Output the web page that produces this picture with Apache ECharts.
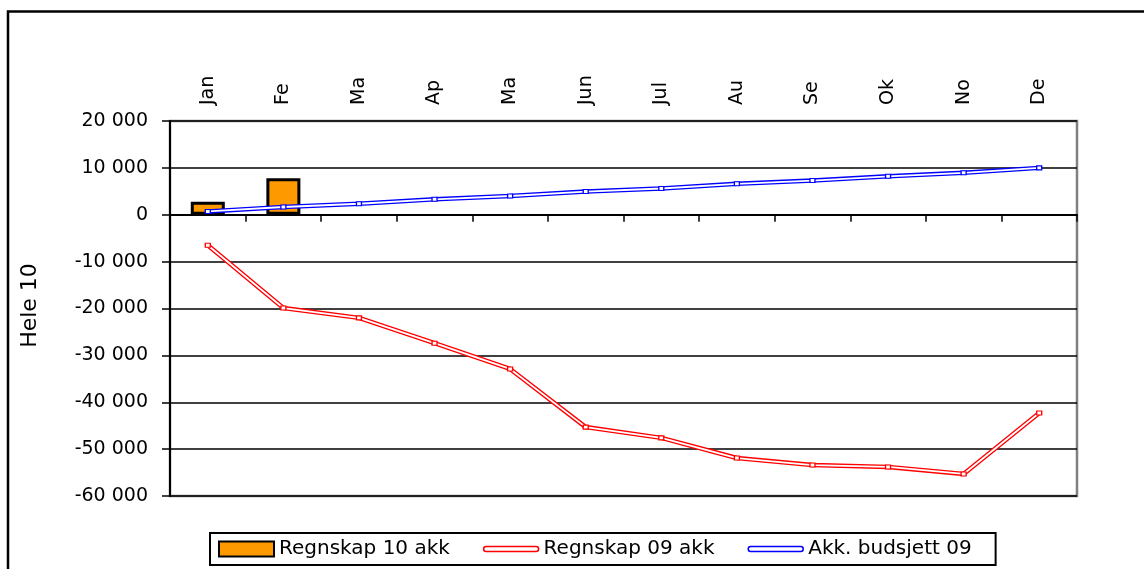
<!DOCTYPE html>
<html>
<head>
<meta charset="utf-8">
<script src="https://cdn.jsdelivr.net/npm/echarts@6/dist/echarts.min.js"></script>
<style>
html,body{margin:0;padding:0;background:#fff;}
#c{width:1144px;height:569px;}
</style>
</head>
<body>
<div id="c"></div>
<script>
// ---- data ----
const categories = ['Jan', 'Feb', 'Mar', 'Apr', 'Mai', 'Jun', 'Jul', 'Aug', 'Sep', 'Okt', 'Nov', 'Des'];
const regnskap10 = [2800, 7800, null, null, null, null, null, null, null, null, null, null];
const regnskap09 = [-6500, -19900, -22000, -27400, -32900, -45300, -47600, -51900, -53400, -53800, -55300, -42300];
const budsjett09 = [700, 1650, 2350, 3300, 4000, 4950, 5600, 6600, 7300, 8200, 8950, 10000];
const seriesNames = ['Regnskap 10 akk', 'Regnskap 09 akk', 'Akk. budsjett 09'];
const yAxisName = 'Hele 10';
const yMin = -60000, yMax = 20000, yStep = 10000;

const FONT = 'DejaVu Sans';
function fmt(v) {
  const s = String(Math.abs(v)).replace(/\B(?=(\d{3})+(?!\d))/g, ' ');
  return (v < 0 ? '-' : '') + s;
}
const lineIcon = 'path://M5,0 H105 A5,5 0 0 1 105,10 H5 A5,5 0 0 1 5,0 Z';

const chart = echarts.init(document.getElementById('c'), null, {renderer: 'canvas'});
chart.setOption({
  animation: false,
  backgroundColor: '#fff',
  graphic: [{
    type: 'rect', silent: true, z: -10,
    shape: {x: 8, y: 11.5, width: 1400, height: 900},
    style: {fill: 'none', stroke: '#000', lineWidth: 2.5}
  }],
  grid: {
    left: 170, right: 67, top: 121, bottom: 73,
    show: true, borderColor: '#808080', borderWidth: 2.5, backgroundColor: 'transparent'
  },
  legend: {
    left: 210, top: 533,
    itemWidth: 55, itemHeight: 15, itemGap: 33,
    padding: [6, 24, 6, 8],
    borderColor: '#000', borderWidth: 2,
    textStyle: {fontFamily: FONT, fontSize: 20, color: '#000'},
    data: [
      {name: seriesNames[0], icon: 'rect'},
      {name: seriesNames[1], icon: lineIcon, itemStyle: {color: '#fff', borderColor: '#FF0000', borderWidth: 1.5}},
      {name: seriesNames[2], icon: lineIcon, itemStyle: {color: '#fff', borderColor: '#0000FF', borderWidth: 1.5}}
    ]
  },
  xAxis: [{
    type: 'category', data: categories, position: 'top', boundaryGap: true,
    axisLine: {show: false, onZero: false}, axisTick: {show: false},
    axisLabel: {
      rotate: -90, margin: 16, fontFamily: FONT, fontSize: 19, color: '#000',
      width: 32, overflow: 'truncate', ellipsis: ''
    },
    splitLine: {show: false}
  }, {
    type: 'category', data: categories, position: 'bottom', boundaryGap: true,
    axisLine: {show: true, onZero: true, lineStyle: {color: '#000', width: 2}},
    axisTick: {show: true, length: 7, lineStyle: {color: '#000', width: 1.5}},
    axisLabel: {show: false},
    splitLine: {show: false}
  }],
  yAxis: {
    type: 'value', min: yMin, max: yMax, interval: yStep,
    name: yAxisName, nameLocation: 'middle', nameGap: 129,
    nameTextStyle: {fontFamily: FONT, fontSize: 22, color: '#000', padding: [0, 0, 0, 6]},
    axisLine: {show: true, lineStyle: {color: '#000', width: 2}},
    axisTick: {show: true, length: 8, lineStyle: {color: '#000', width: 1.5}},
    axisLabel: {margin: 22, fontFamily: FONT, fontSize: 19, color: '#000', formatter: fmt},
    splitLine: {show: true, lineStyle: {color: '#000', width: 1.5}}
  },
  series: [
    {
      name: seriesNames[0], type: 'bar', xAxisIndex: 0, data: regnskap10, barWidth: 34, z: 2,
      itemStyle: {color: '#FF9900', borderColor: '#000', borderWidth: 3}
    },
    {
      name: seriesNames[1], type: 'line', xAxisIndex: 0, data: regnskap09, z: 3,
      symbol: 'none', lineStyle: {color: '#FF0000', width: 4.5}, itemStyle: {color: '#FF0000'}
    },
    {
      name: 'r09_inner', type: 'line', xAxisIndex: 0, data: regnskap09, z: 4,
      symbol: 'rect', symbolSize: [5, 4],
      lineStyle: {color: '#fff', width: 1.8},
      itemStyle: {color: '#fff', borderColor: '#FF0000', borderWidth: 1.2}
    },
    {
      name: seriesNames[2], type: 'line', xAxisIndex: 0, data: budsjett09, z: 3,
      symbol: 'none', lineStyle: {color: '#0000FF', width: 4.5}, itemStyle: {color: '#0000FF'}
    },
    {
      name: 'b09_inner', type: 'line', xAxisIndex: 0, data: budsjett09, z: 4,
      symbol: 'rect', symbolSize: [5, 4],
      lineStyle: {color: '#fff', width: 1.8},
      itemStyle: {color: '#fff', borderColor: '#0000FF', borderWidth: 1.2}
    }
  ]
});
</script>
</body>
</html>
